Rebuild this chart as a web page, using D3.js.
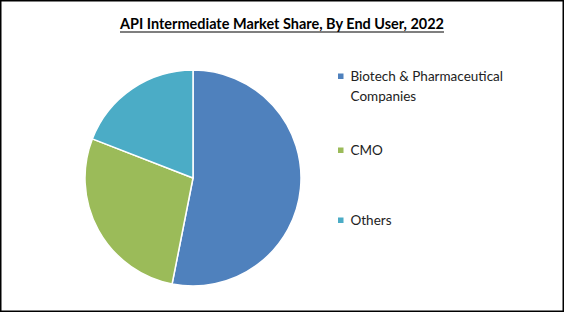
<!DOCTYPE html>
<html>
<head>
<meta charset="utf-8">
<script src="https://cdn.jsdelivr.net/npm/d3@7"></script>
<style>
  html, body { margin: 0; padding: 0; background: #fff; }
  svg { display: block; }
</style>
</head>
<body>
<script>
const categories = ["Biotech & Pharmaceutical Companies", "CMO", "Others"];
const legendLines = [["Biotech & Pharmaceutical", "Companies"], ["CMO"], ["Others"]];
const shares = [53.1, 27.8, 19.1];
const colors = ["#4f81bd", "#9bbb59", "#4bacc6"];
const title = "API Intermediate Market Share, By End User, 2022";

const W = 565, H = 313;
const svg = d3.select("body").append("svg").attr("width", W).attr("height", H);

svg.append("rect").attr("x", 0.75).attr("y", 0.75).attr("width", 562.5).attr("height", 310.5)
  .attr("fill", "#fff").attr("stroke", "#000").attr("stroke-width", 1.5);

const t = svg.append("text").attr("x", 282).attr("y", 29).attr("text-anchor", "middle")
  .attr("font-family", "Lato, 'Open Sans', sans-serif").attr("font-weight", "bold")
  .attr("font-size", 16).attr("fill", "#000").text(title);
// fit width to reference (~324px)
const tw = t.node().getComputedTextLength();
t.attr("textLength", 324).attr("lengthAdjust", "spacingAndGlyphs");
svg.append("line").attr("x1", 282 - 162).attr("x2", 282 + 162).attr("y1", 32).attr("y2", 32)
  .attr("stroke", "#000").attr("stroke-width", 1.2);

const cx = 193, cy = 178, r = 108;
const pie = d3.pie().sort(null).value(d => d)(shares);
const arc = d3.arc().innerRadius(0).outerRadius(r);
const color = d3.scaleOrdinal().domain(categories).range(colors);
svg.append("g").attr("transform", `translate(${cx},${cy})`)
  .selectAll("path").data(pie).join("path")
  .attr("d", arc).attr("fill", (d, i) => color(categories[i]))
  .attr("stroke", "#fff").attr("stroke-width", 1.5).attr("stroke-linejoin", "round");

const legY = [76, 150, 220];
const lg = svg.append("g");
categories.forEach((c, i) => {
  lg.append("rect").attr("x", 338).attr("y", legY[i] - 2.5).attr("width", 5.5).attr("height", 5.5)
    .attr("fill", color(c));
  legendLines[i].forEach((line, j) => {
    lg.append("text").attr("x", 350.5).attr("y", legY[i] + j * 20).attr("dy", "0.35em")
      .attr("font-family", "Lato, 'Open Sans', sans-serif").attr("font-size", 13.5)
      .attr("fill", "#222").text(line);
  });
});
</script>
</body>
</html>
